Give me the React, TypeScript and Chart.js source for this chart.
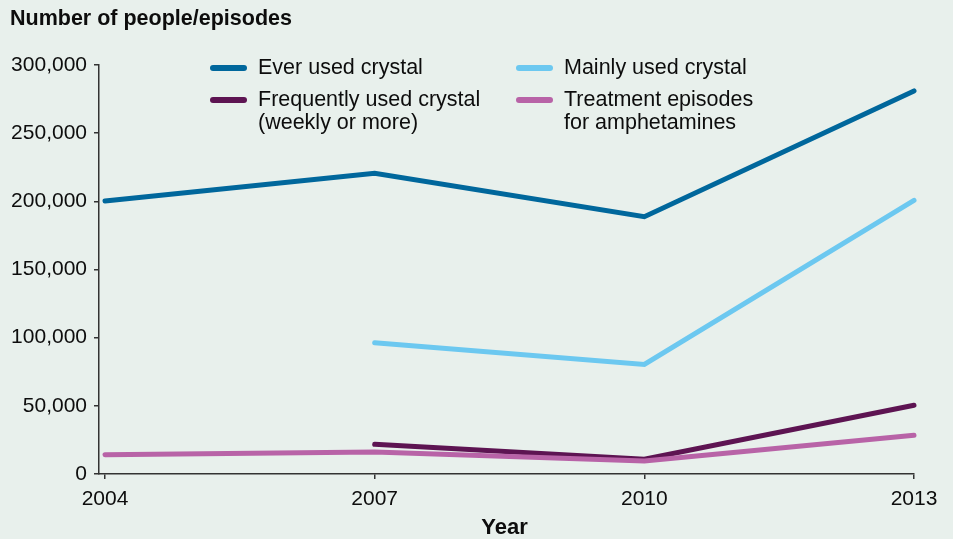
import React, { useEffect, useRef } from "react";
import { Chart, registerables } from "chart.js";

Chart.register(...registerables);

const years = [2004, 2007, 2010, 2013];
const everUsed = [200200, 220500, 188700, 281000];
const mainlyUsed = [null, 96300, 80400, 200700];
const frequentlyUsed = [null, 21800, 10800, 50400];
const treatmentEpisodes = [14200, 16100, 9500, 28400];
const yTickValues = [0, 50000, 100000, 150000, 200000, 250000, 300000];

const seriesNames = [
  ["Ever used crystal"],
  ["Mainly used crystal"],
  ["Frequently used crystal", "(weekly or more)"],
  ["Treatment episodes", "for amphetamines"],
];
const seriesColors = ["#00679c", "#6cc8f0", "#5d1452", "#b863a7"];

const titleText = "Number of people/episodes";
const xTitleText = "Year";

const FONT = "'Liberation Sans', Arial, Helvetica, sans-serif";
const AXIS = "#333333";
const BG = "#e8f0ec";

export default function App() {
  const ref = useRef<HTMLCanvasElement | null>(null);

  useEffect(() => {
    if (!ref.current) return;
    const toPts = (arr: (number | null)[]) => years.map((x, i) => ({ x, y: arr[i] }));
    const allSeries = [everUsed, mainlyUsed, frequentlyUsed, treatmentEpisodes];
    const orders = [2, 3, 1, 0];

    const deco = {
      id: "deco",
      afterDraw(chart: any) {
        const ctx = chart.ctx as CanvasRenderingContext2D;
        const area = chart.chartArea;
        ctx.save();
        // title
        ctx.fillStyle = "#0d0d0d";
        ctx.font = `bold 21.5px ${FONT}`;
        ctx.textBaseline = "middle";
        ctx.textAlign = "left";
        ctx.fillText(titleText, 10, 19);
        // x title
        ctx.font = `bold 22px ${FONT}`;
        ctx.textAlign = "center";
        ctx.fillText(xTitleText, (area.left + area.right) / 2 - 2, 528);
        // legend
        ctx.font = `21.5px ${FONT}`;
        ctx.textAlign = "left";
        const cols = [211, 517];
        const rows = [68, 100];
        const layout = [
          [0, 0],
          [1, 0],
          [0, 1],
          [1, 1],
        ];
        seriesNames.forEach((lines, i) => {
          const [c, r] = layout[i];
          const x = cols[c];
          const y = rows[r];
          ctx.strokeStyle = seriesColors[i];
          ctx.lineWidth = 6;
          ctx.lineCap = "round";
          ctx.beginPath();
          ctx.moveTo(x + 2, y);
          ctx.lineTo(x + 33, y);
          ctx.stroke();
          ctx.fillStyle = "#0d0d0d";
          lines.forEach((t, k) => ctx.fillText(t, x + 47, y + k * 23));
        });
        ctx.restore();
      },
    };

    const chart = new Chart(ref.current, {
      type: "line",
      data: {
        datasets: allSeries.map((arr, i) => ({
          label: seriesNames[i].join(" "),
          data: toPts(arr),
          borderColor: seriesColors[i],
          backgroundColor: seriesColors[i],
          borderWidth: 5,
          borderCapStyle: "round",
          pointRadius: 0,
          tension: 0,
          fill: false,
          clip: false,
          order: orders[i],
        })) as any,
      },
      options: {
        responsive: false,
        animation: false,
        devicePixelRatio: 1,
        layout: { padding: { left: 0, top: 65, right: 39, bottom: 0 } },
        plugins: { legend: { display: false }, tooltip: { enabled: false }, title: { display: false } },
        scales: {
          x: {
            type: "linear",
            min: 2004 - 0.0667,
            max: 2013,
            afterBuildTicks: (scale: any) => {
              scale.ticks = years.map((v) => ({ value: v }));
            },
            afterFit: (scale: any) => {
              scale.height = 65;
            },
            grid: { drawOnChartArea: false, drawTicks: true, tickLength: 5, color: AXIS, lineWidth: 1.5 },
            border: { display: true, color: AXIS, width: 1.5 },
            ticks: {
              autoSkip: false,
              maxRotation: 0,
              padding: 8,
              color: "#0d0d0d",
              font: { family: FONT, size: 21 },
              callback: (v: any) => String(v),
            },
          },
          y: {
            min: 0,
            max: 300000,
            afterBuildTicks: (scale: any) => {
              scale.ticks = yTickValues.map((v) => ({ value: v }));
            },
            afterFit: (scale: any) => {
              scale.width = 99;
            },
            grid: { drawOnChartArea: false, drawTicks: true, tickLength: 5, color: AXIS, lineWidth: 1.5 },
            border: { display: true, color: AXIS, width: 1.5 },
            ticks: {
              padding: 7,
              color: "#0d0d0d",
              font: { family: FONT, size: 21 },
              callback: (v: any) => Number(v).toLocaleString("en-US"),
            },
          },
        },
      },
      plugins: [deco],
    } as any);
    return () => chart.destroy();
  }, []);

  return (
    <div style={{ position: "fixed", left: 0, top: 0, width: 953, height: 539, background: BG }}>
      <canvas ref={ref} width={953} height={539} style={{ display: "block", width: 953, height: 539 }} />
    </div>
  );
}
